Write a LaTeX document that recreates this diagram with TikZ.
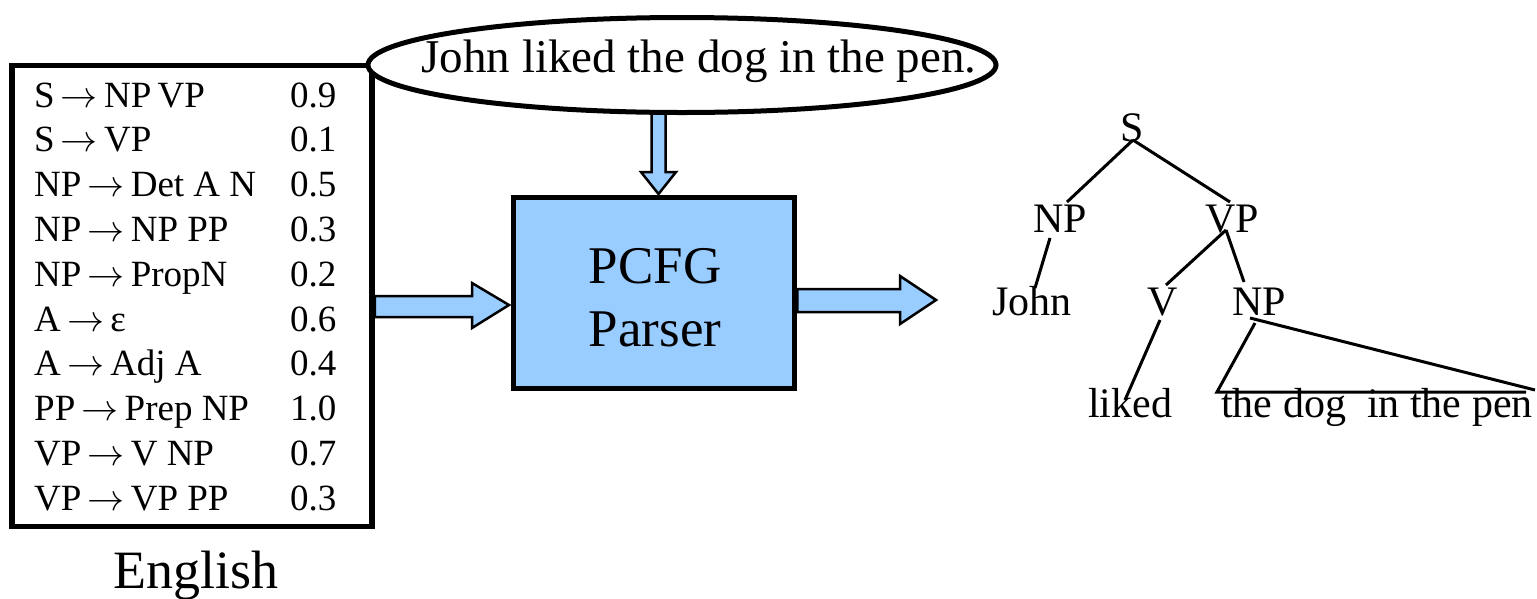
\RequirePackage{fix-cm}
\documentclass[tikz,border=0pt]{standalone}
\usepackage{fontspec}
\setmainfont{LiberationSerif}[Extension=.ttf,UprightFont=*-Regular,BoldFont=*-Bold,ItalicFont=*-Italic]
\usetikzlibrary{shapes.geometric,calc}
\definecolor{pblue}{RGB}{153,204,255}
\newcommand{\ar}{\ensuremath{\rightarrow}}
\begin{document}
\begin{tikzpicture}[x=1pt,y=-1pt,
  gtext/.style={inner sep=0,anchor=base west,font=\fontsize{37}{43}\selectfont},
  ttext/.style={inner sep=0,anchor=base,font=\fontsize{42}{48}\selectfont},
  barrow/.style={draw=black,line width=2.5,fill=pblue,line join=miter},
  tedge/.style={line width=3}]
\useasboundingbox (0,0) rectangle (1537,598);
% grammar box
\node[draw,line width=5.5,minimum width=360,minimum height=461,inner sep=0] (gram) at (192,296) {};
\foreach \r/\p [count=\i] in {S\,\ar\,NP\,VP/0.9, S\,\ar\,VP/0.1, NP\,\ar\,Det A N/0.5, NP\,\ar\,NP PP/0.3, NP\,\ar\,PropN/0.2, A\,\ar\,ε/0.6, A\,\ar\,Adj A/0.4, PP\,\ar\,Prep NP/1.0, VP\,\ar\,V NP/0.7, VP\,\ar\,VP PP/0.3}{
  \node[gtext] (r\i) at (34,{107+44.8*(\i-1)}) {\r};
  \node[gtext] (p\i) at (290,{107+44.8*(\i-1)}) {\p};
}
\node[inner sep=0,anchor=base,font=\fontsize{54}{60}\selectfont] (eng) at (196,588) {English};
% down arrow (drawn first, under ellipse)
\coordinate (dtip) at (658.5,194);
\draw[barrow] (651.5,100) -- (651.5,172) -- (641,172) -- (dtip) -- (676,172) -- (665.5,172) -- (665.5,100) -- cycle;
% sentence ellipse
\node[draw,ellipse,line width=5,fill=white,minimum width=628,minimum height=95,inner sep=0] (sent) at (682,65) {};
\node[inner sep=0,anchor=base,font=\fontsize{47}{54}\selectfont] (senttext) at (699,72) {John liked the dog in the pen.};
% parser box
\node[draw,line width=5.5,fill=pblue,minimum width=281,minimum height=191,inner sep=0] (parser) at (654,293) {};
\node[inner sep=0,anchor=base,font=\fontsize{53}{60}\selectfont] (pcfg1) at (655,283) {PCFG};
\node[inner sep=0,anchor=base,font=\fontsize{53}{60}\selectfont] (pcfg2) at (655,346) {Parser};
% left block arrow
\coordinate (ltip) at (509,305);
\draw[barrow] (gram.east |- 0,296) -- (472,296) -- (472,283) -- (ltip) -- (472,328) -- (472,317) -- (gram.east |- 0,317) -- cycle;
% right block arrow
\coordinate (rtip) at (936,300);
\draw[barrow] (parser.east |- 0,289) -- (900,289) -- (900,276) -- (rtip) -- (900,324) -- (900,312) -- (parser.east |- 0,312) -- cycle;
% tree
\node[ttext] (S) at (1132,141) {S};
\node[ttext] (NP1) at (1060,232) {NP};
\node[ttext] (VP) at (1232,232) {VP};
\node[ttext] (John) at (1032,315) {John};
\node[ttext] (V) at (1163,315) {V};
\node[ttext] (NP2) at (1259,315) {NP};
\node[ttext] (liked) at (1130,417) {liked};
\node[ttext] (phrase) at (1377,417) {the dog\hspace{0.25em} in the pen};
\coordinate (Sb) at (1133,140);
\coordinate (NP1t) at (1067,202);
\coordinate (VPt) at (1230,202);
\coordinate (NP1b) at (1050,238);
\coordinate (Johnt) at (1035,288);
\coordinate (VPb) at (1226,230);
\coordinate (Vt) at (1166,285);
\coordinate (NP2t) at (1244,282);
\coordinate (Vb) at (1160,320);
\coordinate (likedt) at (1125,400);
\coordinate (NP2b) at (1255,323);
\coordinate (NP2r) at (1250,318);
\coordinate (tril) at (1217,392);
\coordinate (trir) at (1535,390);
\coordinate (trib) at (1526,392);
\draw[tedge] (Sb) -- (NP1t);
\draw[tedge] (Sb) -- (VPt);
\draw[tedge] (NP1b) -- (Johnt);
\draw[tedge] (VPb) -- (Vt);
\draw[tedge] (VPb) -- (NP2t);
\draw[tedge] (Vb) -- (likedt);
\draw[tedge] (NP2b) -- (tril) -- (trib);
\draw[tedge] (NP2r) -- (trir);
\end{tikzpicture}
\end{document}
